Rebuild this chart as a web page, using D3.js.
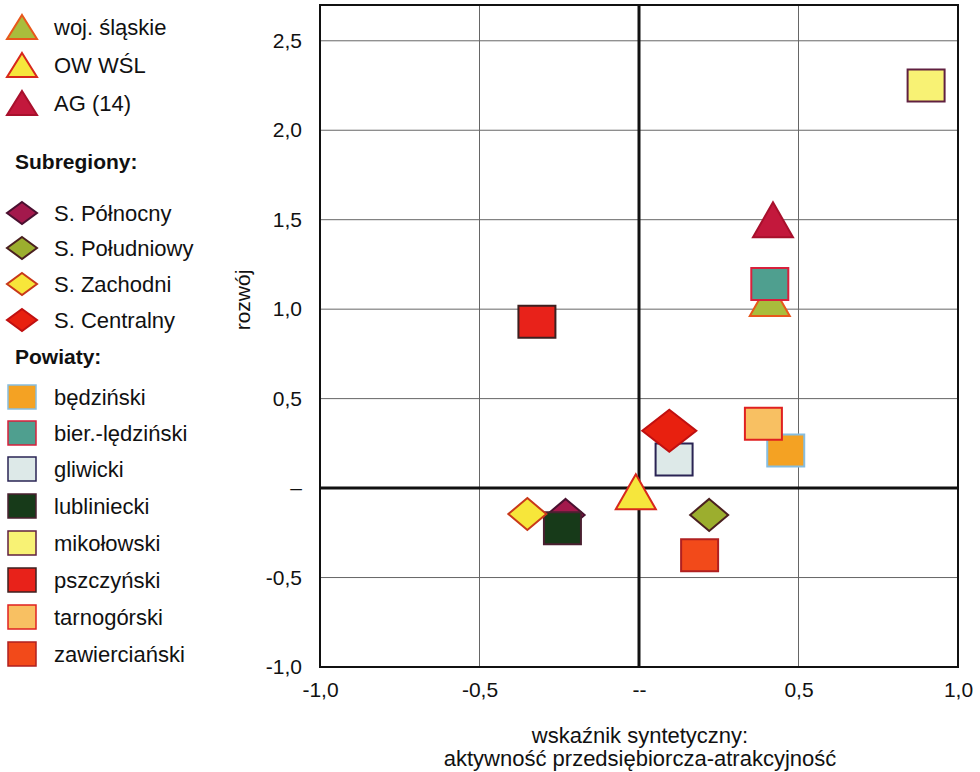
<!DOCTYPE html>
<html>
<head>
<meta charset="utf-8">
<script src="https://cdn.jsdelivr.net/npm/d3@7"></script>
<style>
  body { margin: 0; background: #fff; }
  text { font-family: "Liberation Sans", Arial, sans-serif; fill: #111; }
</style>
</head>
<body>
<svg id="chart" width="980" height="772"></svg>
<script>
// data
const regionNames = ["woj. śląskie", "OW WŚL", "AG (14)"];
const regionX = [0.41, -0.01, 0.42];
const regionY = [1.06, -0.02, 1.50];
const regionFill = ["#a9bd3c", "#f6e63c", "#c3183c"];
const regionStroke = ["#e8581c", "#d8281c", "#a8102c"];

const subregionNames = ["S. Północny", "S. Południowy", "S. Zachodni", "S. Centralny"];
const subregionX = [-0.23, 0.22, -0.35, 0.095];
const subregionY = [-0.15, -0.15, -0.145, 0.32];
const subregionFill = ["#a3194c", "#9cae2e", "#f7e63a", "#e8200f"];
const subregionStroke = ["#4a1030", "#4a2020", "#c8381a", "#c01010"];

const powiatNames = ["będziński", "bier.-lędziński", "gliwicki", "lubliniecki", "mikołowski", "pszczyński", "tarnogórski", "zawierciański"];
const powiatX = [0.46, 0.41, 0.11, -0.24, 0.90, -0.32, 0.39, 0.19];
const powiatY = [0.21, 1.14, 0.16, -0.225, 2.25, 0.93, 0.36, -0.375];
const powiatFill = ["#f4a223", "#4f9f8f", "#dde9e8", "#173a19", "#f8f274", "#e8221a", "#f8c062", "#f24a1a"];
const powiatStroke = ["#86bde0", "#d8203c", "#2a2454", "#4a2030", "#602040", "#3c2020", "#e02020", "#b02020"];

const xTicks = [-1, -0.5, 0, 0.5, 1];
const xTickLabels = ["-1,0", "-0,5", "--", "0,5", "1,0"];
const yTicks = [-1, -0.5, 0, 0.5, 1, 1.5, 2, 2.5];
const yTickLabels = ["-1,0", "-0,5", "–", "0,5", "1,0", "1,5", "2,0", "2,5"];

const tickFont = "21px";
const fontSize = "22px";
const svg = d3.select("#chart");
const x = d3.scaleLinear().domain([-1, 1]).range([320, 958]);
const y = d3.scaleLinear().domain([-1, 2.7]).range([667, 5]);

// shapes centred on 0,0
function square(w, h) { return `M${-w/2},${-h/2}h${w}v${h}h${-w}Z`; }
function diamond(w, h) { return `M0,${-h/2}L${w/2},0L0,${h/2}L${-w/2},0Z`; }
function triangle(w, h) { return `M0,${-h/2}L${w/2},${h/2}L${-w/2},${h/2}Z`; }

// grid
const grid = svg.append("g");
grid.selectAll(".gx").data(xTicks.filter(d => d !== 0 && Math.abs(d) !== 1)).enter()
  .append("line")
  .attr("x1", d => x(d)).attr("x2", d => x(d))
  .attr("y1", y(2.7)).attr("y2", y(-1))
  .attr("stroke", "#666").attr("stroke-width", 1);
grid.selectAll(".gy").data(yTicks.filter(d => d !== 0 && d !== -1)).enter()
  .append("line")
  .attr("x1", x(-1)).attr("x2", x(1))
  .attr("y1", d => y(d)).attr("y2", d => y(d))
  .attr("stroke", "#666").attr("stroke-width", 1);
grid.append("line")
  .attr("x1", x(0)).attr("x2", x(0)).attr("y1", y(2.7)).attr("y2", y(-1))
  .attr("stroke", "#111").attr("stroke-width", 3);
grid.append("line")
  .attr("x1", x(-1)).attr("x2", x(1)).attr("y1", y(0)).attr("y2", y(0))
  .attr("stroke", "#111").attr("stroke-width", 3);
grid.append("rect")
  .attr("x", x(-1)).attr("y", y(2.7))
  .attr("width", x(1) - x(-1)).attr("height", y(-1) - y(2.7))
  .attr("fill", "none").attr("stroke", "#111").attr("stroke-width", 2);

// axes
const xAxis = d3.axisBottom(x).tickValues(xTicks).tickSize(0).tickPadding(15)
  .tickFormat((d, i) => xTickLabels[i]);
svg.append("g").attr("transform", `translate(0,${y(-1)})`).call(xAxis)
  .call(g => g.select(".domain").remove())
  .selectAll("text").style("font-size", tickFont).attr("fill", "#111")
  .style("font-family", "Liberation Sans, Arial, sans-serif");

const yAxis = d3.axisLeft(y).tickValues(yTicks).tickSize(0).tickPadding(18)
  .tickFormat((d, i) => yTickLabels[i]);
svg.append("g").attr("transform", `translate(${x(-1)},0)`).call(yAxis)
  .call(g => g.select(".domain").remove())
  .selectAll("text").style("font-size", tickFont).attr("fill", "#111")
  .style("font-family", "Liberation Sans, Arial, sans-serif");

svg.append("text")
  .attr("transform", `translate(243,300) rotate(-90)`)
  .attr("text-anchor", "middle").attr("dy", "0.35em")
  .style("font-size", tickFont).text("rozwój");
svg.append("text").attr("x", 640).attr("y", 743).attr("text-anchor", "middle")
  .style("font-size", fontSize).text("wskaźnik syntetyczny:");
svg.append("text").attr("x", 640).attr("y", 766).attr("text-anchor", "middle")
  .style("font-size", fontSize).text("aktywność przedsiębiorcza-atrakcyjność");

// marks, listed in drawing order
const marks = [];
const reg = i => ({kind: "tri", xv: regionX[i], yv: regionY[i], fill: regionFill[i], stroke: regionStroke[i]});
const sub = (i, big) => ({kind: big ? "bigdia" : "dia", xv: subregionX[i], yv: subregionY[i], fill: subregionFill[i], stroke: subregionStroke[i]});
const pow = i => ({kind: "sq", xv: powiatX[i], yv: powiatY[i], fill: powiatFill[i], stroke: powiatStroke[i]});
marks.push(reg(0), sub(0), sub(1));
for (let i = 0; i < powiatNames.length; i++) marks.push(pow(i));
marks.push(sub(2), sub(3, true), reg(1), reg(2));

const shapeFor = {
  tri: triangle(40, 35),
  sq: square(37, 32),
  dia: diamond(38, 32),
  bigdia: diamond(54, 42)
};

svg.append("g").selectAll("path").data(marks).enter()
  .append("path")
  .attr("transform", d => `translate(${x(d.xv)},${y(d.yv)})`)
  .attr("d", d => shapeFor[d.kind])
  .attr("fill", d => d.fill)
  .attr("stroke", d => d.stroke)
  .attr("stroke-width", 2)
  .attr("stroke-linejoin", "miter");

// legend
const legend = svg.append("g");
const regRowY = [27, 65, 103];
const subRowY = [213, 248, 284, 320];
const powRowY = [397, 433, 469, 506, 543, 580, 617, 654];

regionNames.forEach((name, i) => {
  legend.append("path").attr("transform", `translate(22,${regRowY[i]})`)
    .attr("d", triangle(30, 24)).attr("fill", regionFill[i])
    .attr("stroke", regionStroke[i]).attr("stroke-width", 2);
  legend.append("text").attr("x", 54).attr("y", regRowY[i]).attr("dy", "0.35em")
    .style("font-size", fontSize).text(name);
});
legend.append("text").attr("x", 15).attr("y", 162).attr("dy", "0.35em")
  .style("font-size", tickFont).style("font-weight", "bold").text("Subregiony:");
subregionNames.forEach((name, i) => {
  legend.append("path").attr("transform", `translate(22,${subRowY[i]})`)
    .attr("d", diamond(30, 22)).attr("fill", subregionFill[i])
    .attr("stroke", subregionStroke[i]).attr("stroke-width", 2);
  legend.append("text").attr("x", 54).attr("y", subRowY[i]).attr("dy", "0.35em")
    .style("font-size", fontSize).text(name);
});
legend.append("text").attr("x", 15).attr("y", 357).attr("dy", "0.35em")
  .style("font-size", tickFont).style("font-weight", "bold").text("Powiaty:");
powiatNames.forEach((name, i) => {
  legend.append("path").attr("transform", `translate(22,${powRowY[i]})`)
    .attr("d", square(28, 24)).attr("fill", powiatFill[i])
    .attr("stroke", powiatStroke[i]).attr("stroke-width", 1.5);
  legend.append("text").attr("x", 54).attr("y", powRowY[i]).attr("dy", "0.35em")
    .style("font-size", fontSize).text(name);
});
</script>
</body>
</html>
